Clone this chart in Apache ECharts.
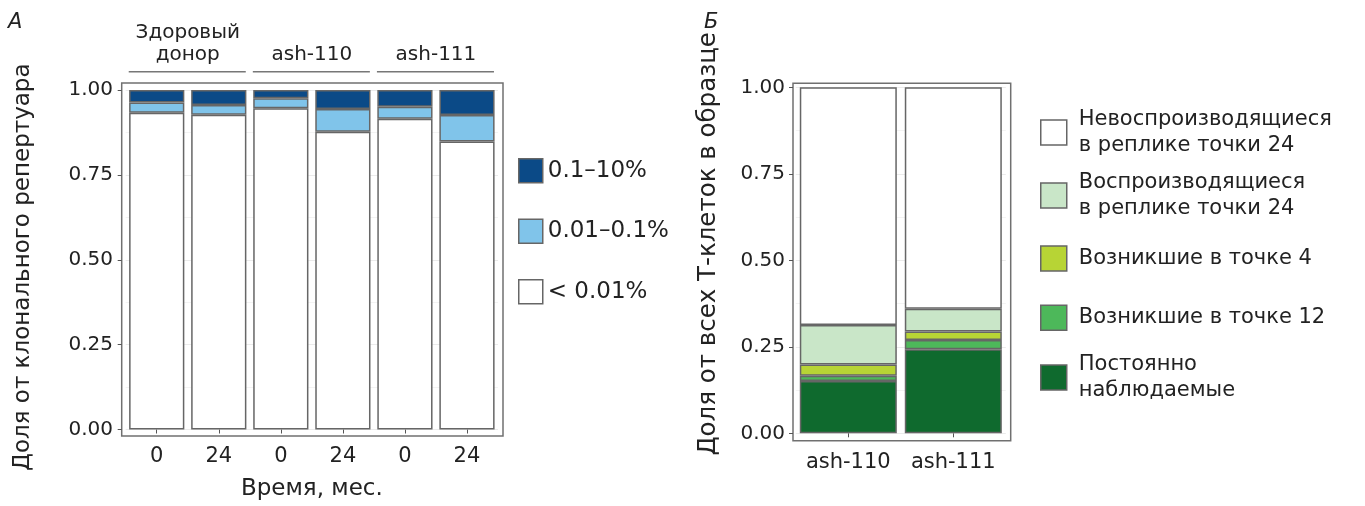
<!DOCTYPE html>
<html><head><meta charset="utf-8">
<script src="https://cdn.jsdelivr.net/npm/echarts@6/dist/echarts.min.js"></script>
<style>html,body{margin:0;padding:0;background:#fff}#c{width:1365px;height:506px}</style>
</head><body><div id="c"></div>
<script>
// ---------- Panel A data ----------
const catsA = ['Здоровый донор 0', 'Здоровый донор 24', 'ash-110 0', 'ash-110 24', 'ash-111 0', 'ash-111 24'];
const tickLabelsA = ['0', '24', '0', '24', '0', '24'];
const groupsA = ['Здоровый\nдонор', 'ash-110', 'ash-111'];
const namesA = ['0.1–10%', '0.01–0.1%', '< 0.01%'];
const highA = [0.037, 0.044, 0.024, 0.056, 0.049, 0.074];   // 0.1–10%
const midA  = [0.030, 0.029, 0.030, 0.067, 0.036, 0.078];   // 0.01–0.1%
const lowA  = [0.933, 0.927, 0.946, 0.877, 0.915, 0.848];   // < 0.01%

// ---------- Panel B data ----------
const catsB = ['ash-110', 'ash-111'];
const namesB = ['Невоспроизводящиеся\nв реплике точки 24', 'Воспроизводящиеся\nв реплике точки 24',
  'Возникшие в точке 4', 'Возникшие в точке 12', 'Постоянно\nнаблюдаемые'];
const notReproducedB = [0.687, 0.640];
const reproducedB    = [0.114, 0.066];
const emerged4B      = [0.033, 0.024];
const emerged12B     = [0.015, 0.027];
const constantB      = [0.151, 0.243];

const FONT = 'DejaVu Sans';
const TXT = '#222';
const BORDER = '#666';
const colorsA = {high: '#0b4a87', mid: '#80c4ea', low: '#ffffff'};
const colorsB = ['#ffffff', '#c9e6c8', '#b7d435', '#4db85a', '#0f6a2e'];

function barStyle(c) { return {color: c, borderColor: BORDER, borderWidth: 1.5}; }

const chart = echarts.init(document.getElementById('c'), null, {renderer: 'canvas'});

const legendB = [
  {top: 93.5, two: true}, {top: 156.5, two: true}, {top: 245.2, two: false},
  {top: 304.5, two: false}, {top: 338.5, two: true}
].map((p, i) => ({
  data: [namesB[i]], orient: 'vertical', left: 1040, top: p.top, padding: 0,
  itemWidth: 26, itemHeight: 25, icon: 'rect', selectedMode: false,
  itemStyle: {borderColor: BORDER, borderWidth: 1.5},
  textStyle: {fontFamily: FONT, fontSize: 21, lineHeight: 26, color: TXT,
    padding: p.two ? [26, 0, 0, 7] : [0, 0, 0, 7]}
}));

const axisLabelStyle = {fontFamily: FONT, color: TXT};

const option = {
  animation: false,
  backgroundColor: '#fff',
  title: [
    {text: 'А', left: 8, top: 12, padding: 0, textStyle: {fontFamily: FONT, fontSize: 21, fontStyle: 'italic', fontWeight: 'normal', color: TXT}},
    {text: 'Б', left: 704, top: 12, padding: 0, textStyle: {fontFamily: FONT, fontSize: 21, fontStyle: 'italic', fontWeight: 'normal', color: TXT}}
  ],
  legend: [
    {data: namesA, orient: 'vertical', left: 518, top: 158, padding: 0, itemWidth: 24, itemHeight: 24,
      itemGap: 35, icon: 'rect', selectedMode: false,
      itemStyle: {borderColor: BORDER, borderWidth: 1.5},
      textStyle: {fontFamily: FONT, fontSize: 23, lineHeight: 24, color: TXT}}
  ].concat(legendB),
  grid: [
    {left: 121.7, top: 83, width: 381.3, height: 353, show: true, borderColor: '#707070', borderWidth: 1.5, backgroundColor: 'transparent'},
    {left: 125.7, top: 90, width: 372.3, height: 340},
    {left: 793, top: 83.3, width: 217.7, height: 357.4, show: true, borderColor: '#707070', borderWidth: 1.5, backgroundColor: 'transparent'},
    {left: 795.8, top: 87.3, width: 210, height: 346}
  ],
  xAxis: [
    {gridIndex: 0, type: 'value', show: false, min: 0, max: 1},
    {gridIndex: 1, type: 'category', data: catsA, offset: 6,
      axisLine: {show: false},
      axisTick: {show: true, alignWithLabel: true, length: 4, lineStyle: {color: '#555'}},
      axisLabel: Object.assign({fontSize: 21, margin: 11, interval: 0, formatter: (v, i) => tickLabelsA[i]}, axisLabelStyle),
      name: 'Время, мес.', nameLocation: 'middle', nameGap: 42.5,
      nameTextStyle: {fontFamily: FONT, fontSize: 23, color: TXT}},
    {gridIndex: 1, type: 'category', position: 'top', data: groupsA,
      axisLine: {show: false}, axisTick: {show: false},
      axisLabel: Object.assign({fontSize: 20, lineHeight: 22, margin: 24, interval: 0, hideOverlap: false}, axisLabelStyle)},
    {gridIndex: 2, type: 'value', show: false, min: 0, max: 1},
    {gridIndex: 3, type: 'category', data: catsB, offset: 7.4,
      axisLine: {show: false},
      axisTick: {show: true, alignWithLabel: true, length: 4, lineStyle: {color: '#555'}},
      axisLabel: Object.assign({fontSize: 21, margin: 11.4, interval: 0, hideOverlap: false}, axisLabelStyle)}
  ],
  yAxis: [
    {gridIndex: 0, type: 'value', show: false, min: 0, max: 1},
    {gridIndex: 1, type: 'value', min: 0, max: 1, interval: 0.25, offset: 4,
      axisLine: {show: false},
      axisTick: {show: true, length: 4, lineStyle: {color: '#555'}},
      axisLabel: Object.assign({fontSize: 20, margin: 8.7, formatter: v => v.toFixed(2)}, axisLabelStyle),
      splitLine: {show: true, lineStyle: {color: '#ebebeb', width: 1}},
      minorTick: {show: false, splitNumber: 2},
      minorSplitLine: {show: true, lineStyle: {color: '#f3f3f3', width: 1}},
      name: 'Доля от клонального репертуара', nameLocation: 'middle', nameGap: 86.7,
      nameTextStyle: {fontFamily: FONT, fontSize: 23, color: TXT, padding: [0, 15, 0, 0]}},
    {gridIndex: 2, type: 'value', show: false, min: 0, max: 1},
    {gridIndex: 3, type: 'value', min: 0, max: 1, interval: 0.25, offset: 2.8,
      axisLine: {show: false},
      axisTick: {show: true, length: 4, lineStyle: {color: '#555'}},
      axisLabel: Object.assign({fontSize: 20, margin: 8, formatter: v => v.toFixed(2)}, axisLabelStyle),
      splitLine: {show: true, lineStyle: {color: '#ebebeb', width: 1}},
      minorTick: {show: false, splitNumber: 2},
      minorSplitLine: {show: true, lineStyle: {color: '#f3f3f3', width: 1}},
      name: 'Доля от всех Т-клеток в образце', nameLocation: 'middle', nameGap: 72,
      nameTextStyle: {fontFamily: FONT, fontSize: 24.5, color: TXT, padding: [0, 0, 0, 33]}}
  ],
  series: [
    {type: 'bar', name: namesA[2], xAxisIndex: 1, yAxisIndex: 1, stack: 'A', data: lowA, barCategoryGap: '11%', itemStyle: barStyle(colorsA.low)},
    {type: 'bar', name: namesA[1], xAxisIndex: 1, yAxisIndex: 1, stack: 'A', data: midA, barCategoryGap: '11%', itemStyle: barStyle(colorsA.mid)},
    {type: 'bar', name: namesA[0], xAxisIndex: 1, yAxisIndex: 1, stack: 'A', data: highA, barCategoryGap: '11%', itemStyle: barStyle(colorsA.high)},
    {type: 'bar', name: namesB[4], xAxisIndex: 4, yAxisIndex: 3, stack: 'B', data: constantB, barCategoryGap: '7.6%', itemStyle: barStyle(colorsB[4])},
    {type: 'bar', name: namesB[3], xAxisIndex: 4, yAxisIndex: 3, stack: 'B', data: emerged12B, barCategoryGap: '7.6%', itemStyle: barStyle(colorsB[3])},
    {type: 'bar', name: namesB[2], xAxisIndex: 4, yAxisIndex: 3, stack: 'B', data: emerged4B, barCategoryGap: '7.6%', itemStyle: barStyle(colorsB[2])},
    {type: 'bar', name: namesB[1], xAxisIndex: 4, yAxisIndex: 3, stack: 'B', data: reproducedB, barCategoryGap: '7.6%', itemStyle: barStyle(colorsB[1])},
    {type: 'bar', name: namesB[0], xAxisIndex: 4, yAxisIndex: 3, stack: 'B', data: notReproducedB, barCategoryGap: '7.6%', itemStyle: barStyle(colorsB[0])}
  ]
};
chart.setOption(option);

// group underlines computed from the category axis
const lineY = 71.7;
const underlines = groupsA.map((g, gi) => {
  const xL = chart.convertToPixel({xAxisIndex: 1}, catsA[gi * 2]);
  const xR = chart.convertToPixel({xAxisIndex: 1}, catsA[gi * 2 + 1]);
  return {type: 'line', silent: true,
    shape: {x1: xL - 28, y1: lineY, x2: xR + 27, y2: lineY},
    style: {stroke: '#777', lineWidth: 1.5}};
});
chart.setOption({graphic: underlines});
</script>
</body></html>
